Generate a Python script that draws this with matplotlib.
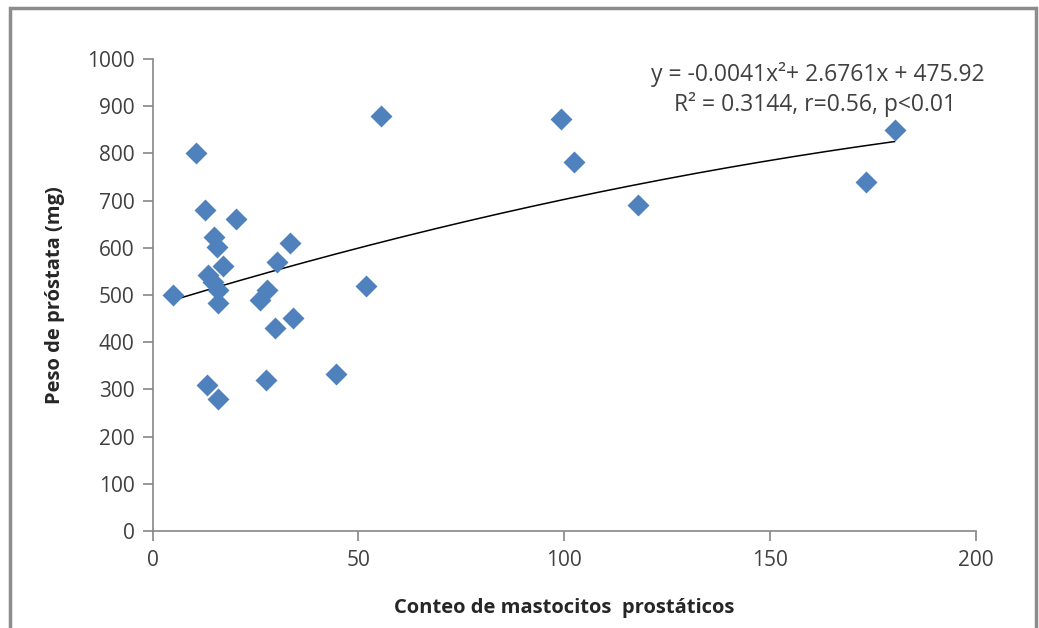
import matplotlib.pyplot as plt
import matplotlib.patches as patches
import numpy as np

# mast cell count vs prostate weight
conteo = [5, 10.5, 12.6, 20.2, 15, 15.5, 17, 13.4, 14.6, 15.8, 15.8,
          30.1, 33.3, 27.7, 26, 29.6, 34, 27.5, 13.1, 15.8,
          44.5, 51.8, 55.4, 99.2, 102.3, 118, 173.3, 180.3]
peso = [500, 800, 680, 662, 622, 602, 562, 542, 527, 510, 482,
        570, 610, 510, 490, 430, 451, 320, 310, 280,
        332, 520, 880, 872, 782, 690, 740, 850]

# polynomial trend from the chart
coef = [-0.0041, 2.6761, 475.92]

plt.rcParams['font.family'] = ['Open Sans', 'DejaVu Sans']

fig = plt.figure(figsize=(10.39, 6.28), dpi=100)
ax = fig.add_axes([0.147, 0.1545, 0.792, 0.7515])

# outer chart frame
fig.patches.append(patches.Rectangle((10 / 1039, -0.05), 1026 / 1039, 1.05 - 8 / 628,
                                     transform=fig.transFigure, fill=False,
                                     edgecolor='#8c8c8c', linewidth=2.5))

ax.scatter(conteo, peso, marker='D', s=125, color='#4f81bd', zorder=3, linewidths=0)

xs = np.linspace(min(conteo), max(conteo), 200)
ax.plot(xs, np.polyval(coef, xs), color='black', linewidth=1.1, zorder=2)

ax.set_xlim(0, 200)
ax.set_ylim(0, 1000)
ax.set_xticks(range(0, 201, 50))
ax.set_yticks(range(0, 1001, 100))

for side in ['top', 'right']:
    ax.spines[side].set_visible(False)
for side in ['left', 'bottom']:
    ax.spines[side].set_color('#868686')
    ax.spines[side].set_linewidth(1.2)
ax.tick_params(axis='both', colors='#868686', labelcolor='#404040', labelsize=15,
               length=7, width=1.2, direction='out')
ax.tick_params(axis='x', pad=7)
ax.tick_params(axis='y', pad=6)

ax.set_xlabel('Conteo de mastocitos  prostáticos', fontsize=14.5, fontweight='bold',
              color='#262626', labelpad=19)
ax.set_ylabel('Peso de próstata (mg)', fontsize=14.5, fontweight='bold',
              color='#262626', labelpad=16)

ax.text(0.808, 0.968, 'y = -0.0041x²+ 2.6761x + 475.92', transform=ax.transAxes,
        ha='center', va='center', fontsize=16.5, color='#404040')
ax.text(0.805, 0.904, 'R² = 0.3144, r=0.56, p<0.01', transform=ax.transAxes,
        ha='center', va='center', fontsize=16.5, color='#404040')

plt.savefig('out.png', dpi=100)
